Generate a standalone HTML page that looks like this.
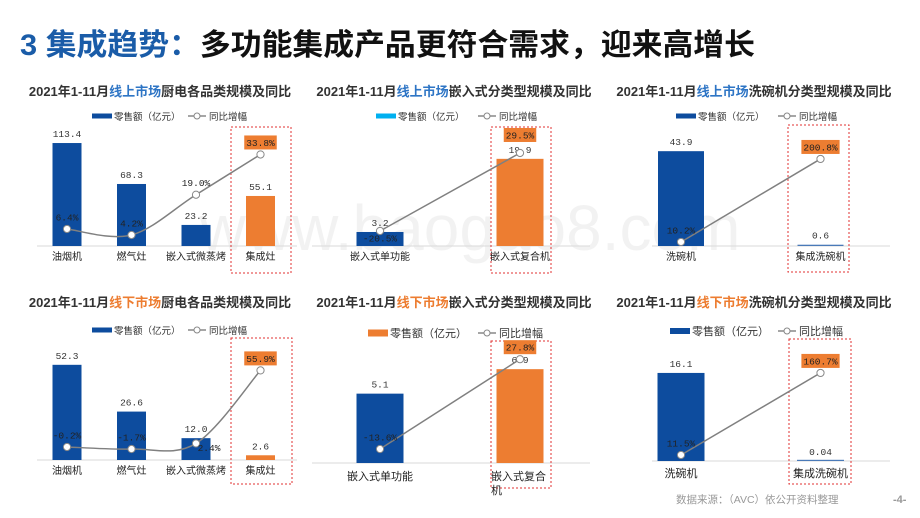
<!DOCTYPE html>
<html><head><meta charset="utf-8">
<style>
html,body{margin:0;padding:0;background:#fff;}
body{width:920px;height:518px;position:relative;overflow:hidden;font-family:"Liberation Sans","Noto Sans CJK SC",sans-serif;}
svg{position:absolute;left:0;top:0;}
</style></head>
<body>
<svg id="s" width="920" height="518" viewBox="0 0 920 518" font-family="Liberation Sans, Noto Sans CJK SC, sans-serif">
  <text x="20" y="55" font-size="30" font-weight="bold" fill="#1a5ca8" textLength="735" lengthAdjust="spacingAndGlyphs">3 集成趋势：<tspan fill="#111">多功能集成产品更符合需求，迎来高增长</tspan></text>
  <text x="470" y="250" font-size="64" fill="#000" fill-opacity="0.05" text-anchor="middle">www.baogao8.com</text>
  <text x="676" y="503" font-size="10.5" fill="#999">数据来源：（AVC）依公开资料整理</text>
  <text x="893" y="503" font-size="11" font-weight="bold" fill="#999">-4-</text>
  <g id="charts"></g>
</svg>
<script>
// ---- data ----
const c1Cats=['油烟机','燃气灶','嵌入式微蒸烤','集成灶'];
const c1Sales=[113.4,68.3,23.2,55.1];
const c1Yoy=[6.4,4.2,19.0,33.8];
const c2Cats=['嵌入式单功能','嵌入式复合机'];
const c2Sales=[3.2,19.9];
const c2Yoy=[-20.5,29.5];
const c3Cats=['洗碗机','集成洗碗机'];
const c3Sales=[43.9,0.6];
const c3Yoy=[10.2,200.8];
const c4Cats=['油烟机','燃气灶','嵌入式微蒸烤','集成灶'];
const c4Sales=[52.3,26.6,12.0,2.6];
const c4Yoy=[-0.2,-1.7,2.4,55.9];
const c5Cats=['嵌入式单功能','嵌入式复合机'];
const c5Sales=[5.1,6.9];
const c5Yoy=[-13.6,27.8];
const c6Cats=['洗碗机','集成洗碗机'];
const c6Sales=[16.1,0.04];
const c6Yoy=[11.5,160.7];

const BLUE='#0d4c9e', ORANGE='#ed7d31';
const NS='http://www.w3.org/2000/svg';
const root=document.getElementById('charts');
function mk(tag,attrs,parent){const e=document.createElementNS(NS,tag);for(const k in attrs)e.setAttribute(k,attrs[k]);(parent||root).appendChild(e);return e;}
function fmtS(v){return v<0.1?v.toFixed(2):v.toFixed(1);}
function fmtY(v){return v.toFixed(1)+'%';}

function chart(o){
  const g=mk('g',{});
  
  
  const t=mk('text',{x:o.tx,y:o.ty,'font-size':13,'font-weight':'bold',fill:'#333','text-anchor':'middle'},g);
  t.innerHTML='2021年1-11月<tspan fill="'+o.mcol+'">'+o.market+'</tspan>'+o.rest;
  
  
  const lg=mk('g',{},g);
  
  
  const sw=mk('rect',{x:o.lx,y:o.ly-o.lh/2,width:20,height:o.lh,fill:o.swc},lg);
  
  
  const lt=mk('text',{x:o.lx+22,y:o.ly+4,'font-size':o.lfs,fill:'#333'},lg);
  lt.textContent='零售额（亿元）';
  
  
  mk('line',{x1:o.l2x,x2:o.l2x+18,y1:o.ly,y2:o.ly,stroke:'#888','stroke-width':1.5},lg);
  mk('circle',{cx:o.l2x+9,cy:o.ly,r:3,fill:'#fff',stroke:'#888','stroke-width':1},lg);
  const lt2=mk('text',{x:o.l2x+21,y:o.ly+4,'font-size':o.lfs,fill:'#333'},lg);
  lt2.textContent='同比增幅';
  
  
  mk('line',{x1:o.bx1,x2:o.bx2,y1:o.base,y2:o.base,stroke:'#d9d9d9','stroke-width':1},g);
  const n=o.cats.length;
  const xs=i=>o.x0+i*o.dx;
  const ys=v=>o.base-v*o.sk;
  const yy=v=>o.yz-v*o.yk;
  const hb=mk('rect',{x:o.hx,y:o.hy,width:o.hw,height:o.hh,fill:'none',stroke:'#e03030','stroke-width':1,'stroke-dasharray':'2,2'},g);
  
  
  for(let i=0;i<n;i++){
    const v=o.sales[i], y=ys(v), h=Math.max(o.base-y,1.2);
    const col=(i===n-1)?o.lastCol:BLUE;
    const b=mk('rect',{x:xs(i)-o.bw/2,y:o.base-h,width:o.bw,height:h,fill:col},g);
    
    
    const vl=mk('text',{x:xs(i),y:y-6,'font-size':9.5,fill:'#333','text-anchor':'middle','font-family':'Liberation Mono, monospace'},g);
    vl.textContent=fmtS(v);
    
    
    const wrap=o.wrapLast&&i===n-1;
    const cl=mk('text',{x:wrap?xs(i)-29:xs(i),y:o.base+o.cly,'font-size':o.cfs,fill:'#222','text-anchor':wrap?'start':'middle'},g);
    if(wrap){cl.innerHTML=o.cats[i].slice(0,5)+'<tspan x="'+(xs(i)-29)+'" dy="14">'+o.cats[i].slice(5)+'</tspan>';}
    else cl.textContent=o.cats[i];
    
    
  }
  const pts=o.yoy.map((v,i)=>[xs(i),yy(v)]);
  let d='M'+pts[0][0]+','+pts[0][1];
  if(n>2){
    for(let i=0;i<n-1;i++){
      const p0=pts[Math.max(i-1,0)],p1=pts[i],p2=pts[i+1],p3=pts[Math.min(i+2,n-1)];
      const c1=[p1[0]+(p2[0]-p0[0])/6,p1[1]+(p2[1]-p0[1])/6];
      const c2=[p2[0]-(p3[0]-p1[0])/6,p2[1]-(p3[1]-p1[1])/6];
      d+=' C'+c1+' '+c2+' '+p2;
    }
  } else d+=' L'+pts[1][0]+','+pts[1][1];
  const ln=mk('path',{d:d,fill:'none',stroke:'#808080','stroke-width':1.5},g);
  
  
  pts.forEach((p,i)=>{
    const c=mk('circle',{cx:p[0],cy:p[1],r:3.6,fill:'#fff',stroke:'#888','stroke-width':1},g);
    
    
    const off=(o.off&&o.off[i])||[0,-12];
    const lx=p[0]+off[0], ly=p[1]+off[1];
    const s=fmtY(o.yoy[i]);
    if(i===n-1){
      const w=s.length*5.7+4;
      const r=mk('rect',{x:lx-w/2,y:ly-7,width:w,height:14,fill:ORANGE},g);
      
      
    }
    const tl=mk('text',{x:lx,y:ly+3.5,'font-size':9.5,fill:'#222','text-anchor':'middle','font-family':'Liberation Mono, monospace'},g);
    tl.textContent=s;
    
    
  });
}

chart({name:'chart-online-kitchen',cats:c1Cats,sales:c1Sales,yoy:c1Yoy,market:'线上市场',mcol:'#2e75c5',rest:'厨电各品类规模及同比',tx:160,ty:96,
  lx:92,ly:116,lh:5,lfs:9.5,l2x:188,swc:BLUE,base:246,bx1:37,bx2:297,x0:67,dx:64.5,bw:29,sk:0.908,yz:246.4,yk:2.72,
  hx:231,hy:127,hw:60,hh:146,lastCol:ORANGE,cly:14,cfs:10});
chart({name:'chart-online-built-in',cats:c2Cats,sales:c2Sales,yoy:c2Yoy,market:'线上市场',mcol:'#2e75c5',rest:'嵌入式分类型规模及同比',tx:454,ty:96,
  lx:376,ly:116,lh:5,lfs:9.5,l2x:478,swc:'#00b0f0',base:246,bx1:312,bx2:590,x0:380,dx:140,bw:47,sk:4.38,yz:199,yk:1.56,
  hx:491,hy:127,hw:60,hh:146,lastCol:ORANGE,cly:14,cfs:10,off:[[0,7],[0,-18]]});
chart({name:'chart-online-dishwasher',cats:c3Cats,sales:c3Sales,yoy:c3Yoy,market:'线上市场',mcol:'#2e75c5',rest:'洗碗机分类型规模及同比',tx:754,ty:96,
  lx:676,ly:116,lh:5,lfs:9.5,l2x:778,swc:BLUE,base:246,bx1:652,bx2:890,x0:681,dx:139.5,bw:46,sk:2.16,yz:246.4,yk:0.4355,
  hx:788,hy:125,hw:61,hh:147,lastCol:'#4a7ab8',cly:14,cfs:10});
chart({name:'chart-offline-kitchen',cats:c4Cats,sales:c4Sales,yoy:c4Yoy,market:'线下市场',mcol:'#ed7d31',rest:'厨电各品类规模及同比',tx:160,ty:307,
  lx:92,ly:330,lh:5,lfs:9.5,l2x:188,swc:BLUE,base:460,bx1:37,bx2:297,x0:67,dx:64.5,bw:29,sk:1.82,yz:446.7,yk:1.365,
  hx:231,hy:338,hw:61,hh:146,lastCol:ORANGE,cly:14,cfs:10,off:[null,null,[13,4],null]});
chart({name:'chart-offline-built-in',cats:c5Cats,sales:c5Sales,yoy:c5Yoy,market:'线下市场',mcol:'#ed7d31',rest:'嵌入式分类型规模及同比',tx:454,ty:307,
  lx:368,ly:333,lh:7,lfs:11,l2x:478,swc:ORANGE,base:463,bx1:312,bx2:590,x0:380,dx:140,bw:47,sk:13.6,yz:419.5,yk:2.17,
  hx:491,hy:341,hw:60,hh:147,lastCol:ORANGE,cly:17,cfs:11,wrapLast:true});
chart({name:'chart-offline-dishwasher',cats:c6Cats,sales:c6Sales,yoy:c6Yoy,market:'线下市场',mcol:'#ed7d31',rest:'洗碗机分类型规模及同比',tx:754,ty:307,
  lx:670,ly:331,lh:6,lfs:11,l2x:778,swc:BLUE,base:461,bx1:652,bx2:890,x0:681,dx:139.5,bw:47,sk:5.47,yz:461.3,yk:0.55,
  hx:789,hy:339,hw:62,hh:145,lastCol:'#4a7ab8',cly:16,cfs:11});
</script>
</body></html>
